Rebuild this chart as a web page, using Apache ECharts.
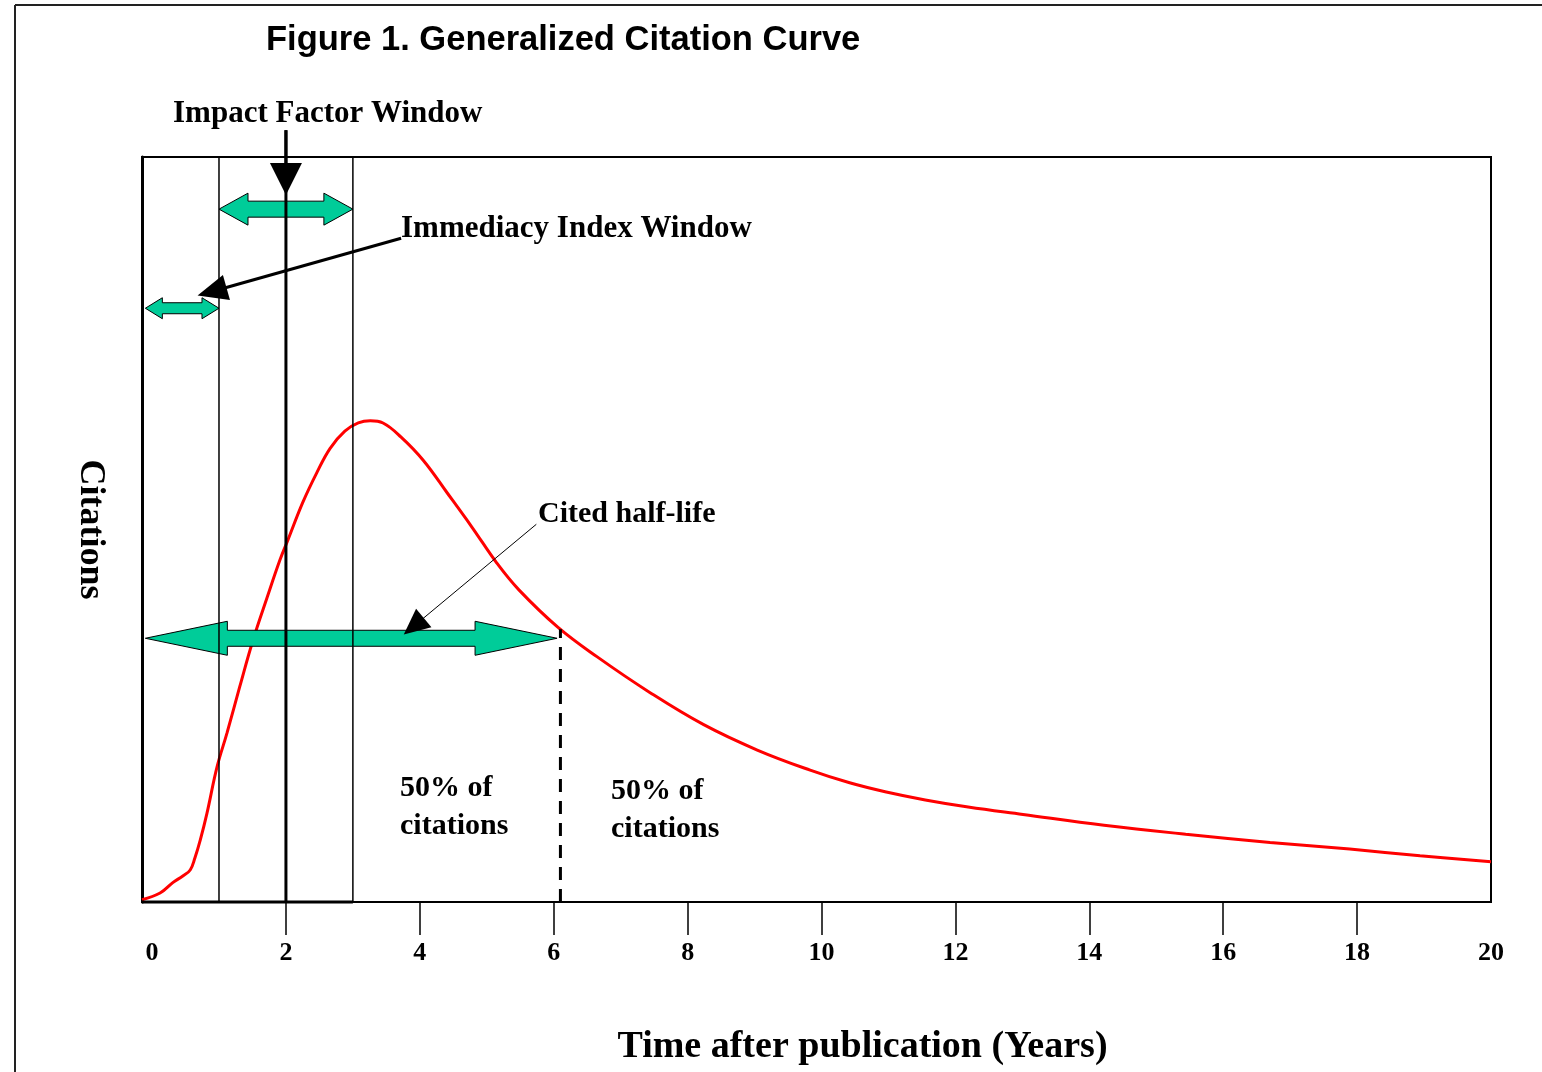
<!DOCTYPE html>
<html>
<head>
<meta charset="utf-8">
<script src="https://cdn.jsdelivr.net/npm/echarts@6/dist/echarts.min.js"></script>
<style>
html,body{margin:0;padding:0;background:#fff;}
#chart{width:1542px;height:1072px;}
</style>
</head>
<body>
<div id="chart"></div>
<script>
// ---- data ----
const years =     [-0.15, 0.12, 0.31, 0.46, 0.57, 0.64, 0.72, 0.82, 0.97, 1.12, 1.31, 1.51, 1.72, 1.91, 2.03, 2.25, 2.46, 2.66, 2.88, 3.08, 3.26, 3.45, 3.72, 4.05, 4.41, 4.78, 5.15, 5.48, 6.06, 6.65, 7.44, 8.24, 9.04, 9.83, 10.42, 10.95, 11.55, 12.19, 13.01, 14.22, 15.44, 16.70, 17.89, 18.94, 20.0];
const citations = [0.3,   1.2,  2.6,  3.5,  4.3,  5.9,  8.3,  11.9, 18.1, 22.7, 28.9, 35.2, 40.9, 45.9, 48.6, 53.6, 57.6, 60.9, 63.2, 64.3, 64.6, 64.3, 62.4, 59.3, 54.9, 50.3, 45.5, 41.9, 36.9, 32.9, 28.1, 23.8, 20.4, 17.7, 16.0,  14.8,  13.7,  12.75, 11.75, 10.3,  9.1,   8.0,   7.1,   6.2,   5.4];
const tickValues = [2, 4, 6, 8, 10, 12, 14, 16, 18];
const labelValues = [0, 2, 4, 6, 8, 10, 12, 14, 16, 18, 20];
// windows (years)
const immediacyWindow = [0, 1];
const impactWindow = [1, 3];
const impactMarker = 2;
const halfLife = 6.1;
const halfLifeLevel = 35.4;      // height of the half-life arrow
const halfLifeCurve = 36.6;      // curve height at half-life
const impactArrowLevel = 93.0;
const immediacyArrowLevel = 79.7;
const impactPointer = [[2, 103.6], [2, 94.9]];
const immediacyPointer = [[3.72, 89.1], [0.68, 81.4]];
const halfLifePointer = [[5.74, 50.7], [3.76, 35.9]];

const serif = '"Liberation Serif","Times New Roman",serif';
const sans = '"Liberation Sans",Arial,sans-serif';

const chart = echarts.init(document.getElementById('chart'));
const option = {
  animation: false,
  backgroundColor: '#fff',
  title: {
    text: 'Figure 1. Generalized Citation Curve',
    left: 261, top: 18,
    textStyle: {fontFamily: sans, fontWeight: 'bold', fontSize: 34.5, color: '#000'}
  },
  grid: {left: 142, right: 51, top: 157, bottom: 170, show: true, borderColor: '#000', borderWidth: 2, backgroundColor: 'transparent'},
  xAxis: {
    type: 'value', min: -0.15, max: 20,
    name: 'Time after publication (Years)', nameLocation: 'middle', nameGap: 126,
    nameTextStyle: {fontFamily: serif, fontWeight: 'bold', fontSize: 38, color: '#000', padding: [0, 0, 0, 92]},
    axisLine: {show: true, onZero: false, lineStyle: {color: '#000', width: 2}},
    axisTick: {show: true, customValues: tickValues, length: 33, lineStyle: {color: '#000', width: 1.5}},
    axisLabel: {show: true, customValues: labelValues, margin: 38, fontFamily: serif, fontWeight: 'bold', fontSize: 26, color: '#000'},
    splitLine: {show: false}
  },
  yAxis: {
    type: 'value', min: 0, max: 100,
    name: 'Citations', nameLocation: 'middle', nameRotate: -90, nameGap: 34,
    nameTextStyle: {fontFamily: serif, fontWeight: 'bold', fontSize: 36, color: '#000'},
    axisLine: {show: true, onZero: false, lineStyle: {color: '#000', width: 3}},
    axisTick: {show: false}, axisLabel: {show: false}, splitLine: {show: false}
  },
  series: [{
    type: 'line', data: years.map((x, i) => [x, citations[i]]),
    smooth: 0.4, showSymbol: false, symbol: 'none', z: 2,
    lineStyle: {color: '#ff0000', width: 3}
  }]
};
chart.setOption(option);

function P(x, y) { return chart.convertToPixel({gridIndex: 0}, [x, y]); }

function doubleArrow(x1, x2, y, sh, hh, hl) {
  const a = P(x1, y), b = P(x2, y);
  const xl = a[0], xr = b[0], yc = a[1];
  return {
    type: 'polygon', z: 50,
    shape: {points: [[xl, yc], [xl + hl, yc - hh], [xl + hl, yc - sh], [xr - hl, yc - sh], [xr - hl, yc - hh], [xr, yc], [xr - hl, yc + hh], [xr - hl, yc + sh], [xl + hl, yc + sh], [xl + hl, yc + hh]]},
    style: {fill: '#00cc99', stroke: '#000', lineWidth: 1}
  };
}
function pointer(seg, width, len, halfW) {
  const s = P(seg[0][0], seg[0][1]), t = P(seg[1][0], seg[1][1]);
  const dx = t[0] - s[0], dy = t[1] - s[1], d = Math.hypot(dx, dy);
  const ux = dx / d, uy = dy / d;
  const base = [t[0] - ux * len, t[1] - uy * len];
  const nx = -uy, ny = ux;
  return [
    {type: 'line', z: 60, shape: {x1: s[0], y1: s[1], x2: base[0] + ux * 2, y2: base[1] + uy * 2}, style: {stroke: '#000', lineWidth: width}},
    {type: 'polygon', z: 61, shape: {points: [t, [base[0] + nx * halfW, base[1] + ny * halfW], [base[0] - nx * halfW, base[1] - ny * halfW]]}, style: {fill: '#000'}}
  ];
}
function vline(x, y1, y2, w, dash) {
  const a = P(x, y1), b = P(x, y2);
  return {type: 'line', z: 60, shape: {x1: a[0], y1: a[1], x2: b[0], y2: b[1]}, style: {stroke: '#000', lineWidth: w, lineDash: dash || null}};
}
function txt(x, y, s, size, align) {
  return {type: 'text', z: 70, x: x, y: y, style: {text: s, fill: '#000', font: 'bold ' + size + 'px ' + serif, textAlign: align || 'left', textVerticalAlign: 'middle', lineHeight: 38}};
}

const g = [];
// window boxes
g.push(vline(impactWindow[0], 0, 100, 1.5));
g.push(vline(impactWindow[1], 0, 100, 1.5));
const bl = P(-0.15, 0), br = P(impactWindow[1], 0);
g.push({type: 'line', z: 60, shape: {x1: bl[0], y1: bl[1], x2: br[0], y2: br[1]}, style: {stroke: '#000', lineWidth: 3}});
// green window arrows
g.push(doubleArrow(impactWindow[0], impactWindow[1], impactArrowLevel, 8, 16, 29));
g.push(doubleArrow(immediacyWindow[0] - 0.1, immediacyWindow[1], immediacyArrowLevel, 5.5, 10.5, 17));
g.push(doubleArrow(-0.1, halfLife - 0.05, halfLifeLevel, 8, 17, 82));
// impact factor marker line + arrowhead
g.push(vline(impactMarker, impactPointer[0][1], 0, 3));
g.push(...pointer(impactPointer, 3, 32, 16));
// immediacy pointer
g.push(...pointer(immediacyPointer, 3, 30, 13));
// half-life pointer
g.push(...pointer(halfLifePointer, 1, 26, 12));
// dashed half-life line
g.push(vline(halfLife, 0, halfLifeCurve, 3, [13, 9]));
// texts
g.push(txt(173, 114, 'Impact Factor Window', 31));
g.push(txt(401, 229, 'Immediacy Index Window', 31));
g.push(txt(538, 514, 'Cited half-life', 30));
g.push(txt(400, 807, '50% of\ncitations', 30));
g.push(txt(611, 810, '50% of\ncitations', 30));
// outer frame
g.push({type: 'line', z: 1, shape: {x1: 15, y1: 5, x2: 15, y2: 1072}, style: {stroke: '#222', lineWidth: 2}});
g.push({type: 'line', z: 1, shape: {x1: 15, y1: 5, x2: 1542, y2: 5}, style: {stroke: '#222', lineWidth: 2}});

chart.setOption({graphic: {elements: g}});
</script>
</body>
</html>
